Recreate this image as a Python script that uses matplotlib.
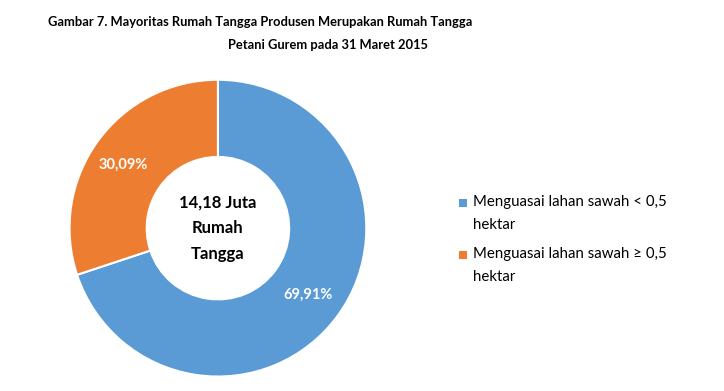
import matplotlib.pyplot as plt
from matplotlib.patches import Rectangle

# DATA
labels = ['Menguasai lahan sawah < 0,5\nhektar', 'Menguasai lahan sawah \u2265 0,5\nhektar']
shares = [69.91, 30.09]
share_labels = ['69,91%', '30,09%']
colors = ['#5B9BD5', '#ED7D31']
center_text = '14,18 Juta\nRumah\nTangga'

plt.rcParams['font.family'] = ['Lato', 'DejaVu Sans']

fig = plt.figure(figsize=(7.24, 3.91), dpi=100)
fig.patch.set_facecolor('white')

# DONUT
ax = fig.add_axes([0.094, 0.033, 0.414, 0.767])
wedges, _ = ax.pie(shares, colors=colors, startangle=90, counterclock=False,
                   radius=1.0, wedgeprops=dict(width=0.52, edgecolor='white', linewidth=1.5))
ax.set_xlim(-1.01, 1.01)
ax.set_ylim(-1.01, 1.01)
ax.set_aspect('equal')

# share labels
ax.text(0.61, -0.45, share_labels[0], ha='center', va='center', color='white',
        fontsize=10.5, fontweight='bold')
ax.text(-0.64, 0.43, share_labels[1], ha='center', va='center', color='white',
        fontsize=10.5, fontweight='bold')
ax.text(0, 0, center_text, ha='center', va='center', fontsize=12,
        fontweight='bold', linespacing=1.75)

# TITLE
fig.text(260 / 724, 1 - 22 / 391, 'Gambar 7. Mayoritas Rumah Tangga Produsen Merupakan Rumah Tangga',
         ha='center', va='center', fontsize=9.3, fontweight='bold')
fig.text(328 / 724, 1 - 45 / 391, 'Petani Gurem pada 31 Maret 2015',
         ha='center', va='center', fontsize=9.3, fontweight='bold')

# LEGEND (drawn by hand to keep the two-line spacing)
legend_y = [203, 255]
for c, lab, y in zip(colors, labels, legend_y):
    fig.patches.append(Rectangle((459 / 724, 1 - (y + 4) / 391), 8 / 724, 8 / 391,
                                 transform=fig.transFigure, facecolor=c, edgecolor='none'))
    fig.text(473 / 724, 1 - (y - 8) / 391, lab, ha='left', va='top', fontsize=10.8,
             linespacing=1.8)

plt.savefig('out.png', dpi=100)
